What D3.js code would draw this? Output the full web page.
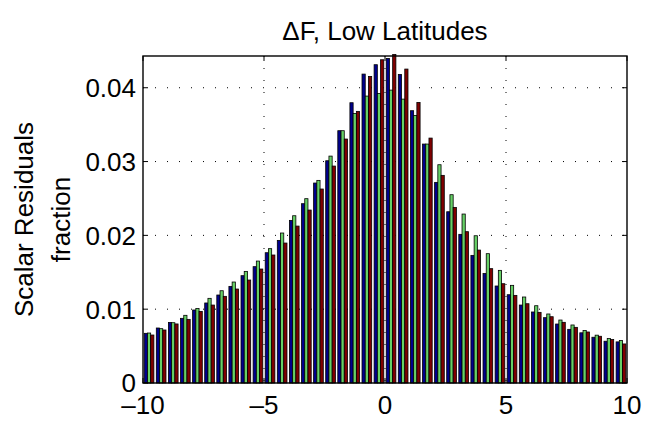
<!DOCTYPE html>
<html>
<head>
<meta charset="utf-8">
<script src="https://cdn.jsdelivr.net/npm/d3@7"></script>
<style>
  body { margin: 0; background: #fff; }
  svg text { font-family: "Liberation Sans", Arial, Helvetica, sans-serif; fill: #000; }
</style>
</head>
<body>
<svg id="chart" width="646" height="421"></svg>
<script>
// bin centres (bin width 0.5)
const centers = [-9.75,-9.25,-8.75,-8.25,-7.75,-7.25,-6.75,-6.25,-5.75,-5.25,
                 -4.75,-4.25,-3.75,-3.25,-2.75,-2.25,-1.75,-1.25,-0.75,-0.25,
                  0.25, 0.75, 1.25, 1.75, 2.25, 2.75, 3.25, 3.75, 4.25, 4.75,
                  5.25, 5.75, 6.25, 6.75, 7.25, 7.75, 8.25, 8.75, 9.25, 9.75]

const series_names = ["s1", "s2", "s3"]
const series_colors = ["#00008c", "#66d066", "#800000"]

const s1 = [0.00673,0.00745,0.00820,0.00876,0.00989,0.01084,0.01192,0.01309,0.01454,0.01576,
            0.01765,0.01932,0.02203,0.02429,0.02709,0.03011,0.03418,0.03797,0.04185,0.04312,
            0.04397,0.04180,0.03689,0.03237,0.02718,0.02320,0.02014,0.01729,0.01485,0.01314,
            0.01196,0.01056,0.00962,0.00885,0.00799,0.00727,0.00680,0.00620,0.00566,0.00557]
const s2 = [0.00677,0.00736,0.00817,0.00917,0.01010,0.01147,0.01250,0.01368,0.01512,0.01652,
            0.01820,0.02032,0.02266,0.02497,0.02745,0.03074,0.03418,0.03652,0.03887,0.03923,
            0.03968,0.03846,0.03625,0.03237,0.02957,0.02551,0.02289,0.01995,0.01752,0.01526,
            0.01323,0.01165,0.01047,0.00935,0.00853,0.00786,0.00711,0.00648,0.00602,0.00575]
const s3 = [0.00650,0.00718,0.00800,0.00862,0.00970,0.01056,0.01174,0.01273,0.01395,0.01544,
            0.01734,0.01896,0.02126,0.02343,0.02628,0.02939,0.03305,0.03680,0.04153,0.04379,
            0.04450,0.04253,0.03801,0.03318,0.02813,0.02379,0.02050,0.01801,0.01549,0.01345,
            0.01187,0.01074,0.00957,0.00898,0.00822,0.00754,0.00691,0.00633,0.00588,0.00529]

const x_ticks = [-10, -5, 0, 5, 10]
const x_tick_labels = ["\u201310", "\u20135", "0", "5", "10"]
const y_ticks = [0, 0.01, 0.02, 0.03, 0.04]
const y_tick_labels = ["0", "0.01", "0.02", "0.03", "0.04"]
const x_domain = [-10, 10]
const y_domain = [0, 0.0443]

const title_text = "\u0394F, Low Latitudes"
const ylabel_lines = ["Scalar Residuals", "fraction"]

const ax_left = 143, ax_right = 627, ax_top = 56, ax_bottom = 383
const svg = d3.select("#chart")

const x = d3.scaleLinear().domain(x_domain).range([ax_left, ax_right])
const y = d3.scaleLinear().domain(y_domain).range([ax_bottom, ax_top])

const groups = d3.scaleBand().domain(centers).range([ax_left, ax_right])
                 .paddingInner(0.2).paddingOuter(0.1)
const inner = d3.scaleBand().domain(series_names).range([0, groups.bandwidth()])

const all_series = [s1, s2, s3]

// dotted grid
const grid = svg.append("g").attr("class", "grid")
    .attr("stroke", "#000").attr("stroke-width", 1).attr("stroke-dasharray", "1,11")
grid.selectAll(".gx").data(x_ticks.slice(1, -1)).join("line")
    .attr("x1", d => x(d)).attr("x2", d => x(d))
    .attr("y1", ax_top).attr("y2", ax_bottom)
grid.selectAll(".gy").data(y_ticks.slice(1)).join("line")
    .attr("x1", ax_left).attr("x2", ax_right)
    .attr("y1", d => y(d)).attr("y2", d => y(d))

// bars
const bars = svg.append("g").attr("class", "bars")
series_names.forEach((name, si) => {
    bars.append("g")
        .attr("fill", series_colors[si])
        .attr("stroke", "#000").attr("stroke-width", 0.8)
        .selectAll("rect").data(all_series[si]).join("rect")
        .attr("x", (d, i) => groups(centers[i]) + inner(name))
        .attr("width", inner.bandwidth())
        .attr("y", d => y(d))
        .attr("height", d => ax_bottom - y(d))
})

// frame
svg.append("rect")
    .attr("x", ax_left).attr("y", ax_top)
    .attr("width", ax_right - ax_left).attr("height", ax_bottom - ax_top)
    .attr("fill", "none").attr("stroke", "#000").attr("stroke-width", 1.4)

// inward ticks on all four sides
const tlen = 5
const ticks = svg.append("g").attr("stroke", "#000").attr("stroke-width", 1)
ticks.selectAll(".xb").data(x_ticks).join("line")
    .attr("x1", d => x(d)).attr("x2", d => x(d)).attr("y1", ax_bottom).attr("y2", ax_bottom - tlen)
ticks.selectAll(".xt").data(x_ticks).join("line")
    .attr("x1", d => x(d)).attr("x2", d => x(d)).attr("y1", ax_top).attr("y2", ax_top + tlen)
ticks.selectAll(".yl").data(y_ticks).join("line")
    .attr("x1", ax_left).attr("x2", ax_left + tlen).attr("y1", d => y(d)).attr("y2", d => y(d))
ticks.selectAll(".yr").data(y_ticks).join("line")
    .attr("x1", ax_right).attr("x2", ax_right - tlen).attr("y1", d => y(d)).attr("y2", d => y(d))

// tick labels
svg.append("g").selectAll("text").data(x_ticks).join("text")
    .attr("x", d => x(d)).attr("y", 414)
    .attr("text-anchor", "middle").style("font-size", "26px")
    .text((d, i) => x_tick_labels[i])
svg.append("g").selectAll("text").data(y_ticks).join("text")
    .attr("x", 136).attr("y", d => y(d)).attr("dy", "0.36em")
    .attr("text-anchor", "end").style("font-size", "26px")
    .text((d, i) => y_tick_labels[i])

// title
svg.append("text")
    .attr("x", (ax_left + ax_right) / 2).attr("y", 40)
    .attr("text-anchor", "middle").style("font-size", "26px")
    .text(title_text)

// y label, two lines
const ylab = svg.append("g").attr("transform", `translate(0,${(ax_top + ax_bottom) / 2}) rotate(-90)`)
ylab.selectAll("text").data(ylabel_lines).join("text")
    .attr("x", 0).attr("y", (d, i) => 33 + i * 37)
    .attr("text-anchor", "middle").style("font-size", "26px")
    .text(d => d)
</script>
</body>
</html>
